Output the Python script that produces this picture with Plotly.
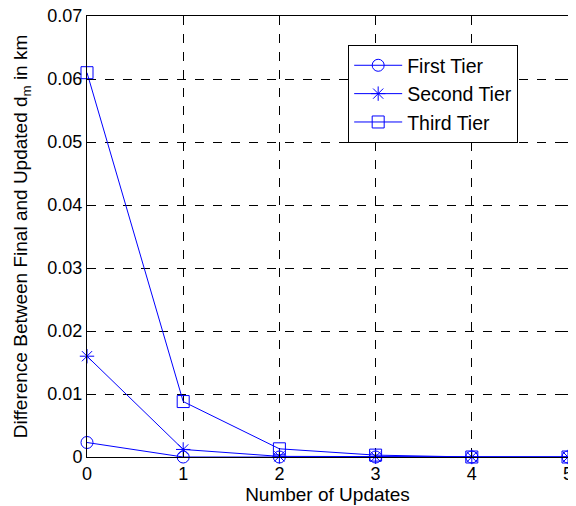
import plotly.graph_objects as go

updates = [0, 1, 2, 3, 4, 5]
first_tier = [0.0023, 0.0, 0.0, 0.0, 0.0, 0.0]
second_tier = [0.016, 0.0012, 0.0001, 0.00005, 0.0, 0.0]
third_tier = [0.061, 0.0088, 0.0013, 0.0003, 0.0, 0.0]
y_ticks = [0, 0.01, 0.02, 0.03, 0.04, 0.05, 0.06, 0.07]
y_labels = ["0", "0.01", "0.02", "0.03", "0.04", "0.05", "0.06", "0.07"]
x_labels = ["0", "1", "2", "3", "4", "5"]

blue = "rgb(0,0,255)"
fig = go.Figure()
for name, vals, sym in [("First Tier", first_tier, "circle-open"),
                        ("Second Tier", second_tier, "asterisk-open"),
                        ("Third Tier", third_tier, "square-open")]:
    fig.add_trace(go.Scatter(x=updates, y=vals, name=name, mode="lines+markers",
                             line=dict(color=blue, width=1), cliponaxis=False,
                             marker=dict(symbol=sym, size=12, color=blue, line=dict(width=1, color=blue))))

axis_common = dict(showline=True, linecolor="black", linewidth=1, mirror="ticks",
                   ticks="inside", ticklen=5, tickcolor="black",
                   showgrid=True, gridcolor="black", griddash="dash", gridwidth=1,
                   zeroline=False, tickfont=dict(size=18, color="black"),
                   ticklabeloverflow="allow", automargin=False)
fig.update_xaxes(range=[0, 5], tickvals=updates, ticktext=x_labels,
                 title=dict(text="Number of Updates", font=dict(size=19), standoff=2), **axis_common)
fig.update_yaxes(range=[0, 0.07], tickvals=y_ticks, ticktext=y_labels,
                 title=dict(text="Difference Between Final and Updated d<sub>m</sub> in km", font=dict(size=19), standoff=14),
                 **axis_common)
fig.update_layout(width=576, height=506, margin=dict(l=79, r=16, t=8, b=57),
                  plot_bgcolor="white", paper_bgcolor="white",
                  font=dict(family="Liberation Sans, Arial, sans-serif", color="black"),
                  legend=dict(x=0.543, y=0.934, xanchor="left", yanchor="top",
                              bgcolor="white", bordercolor="black", borderwidth=1,
                              font=dict(size=19.5), tracegroupgap=0, itemwidth=48))
fig.write_html("out.html")
